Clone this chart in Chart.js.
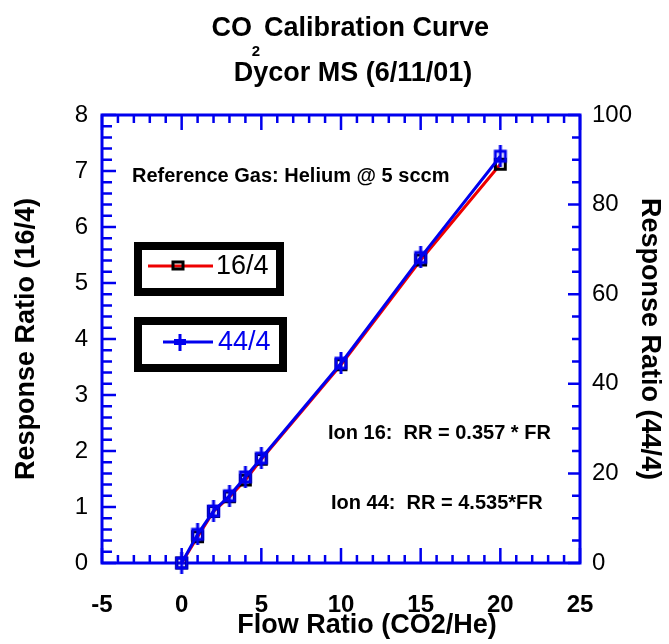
<!DOCTYPE html>
<html lang="en">
<head>
    <meta charset="UTF-8">
    <title>CO2 Calibration Curve</title>
    <script src="https://cdn.jsdelivr.net/npm/chart.js"></script>
    <style>
        html, body {
            margin: 0;
            padding: 0;
            background: #fff;
        }
        #wrap {
            width: 669px;
            height: 644px;
        }
    </style>
</head>
<body>
<div id="wrap"><canvas id="calChart" width="669" height="644"></canvas></div>
<script>
    // values
    const flowRatio = [0, 1, 2, 3, 4, 5, 10, 15, 20];
    const ratio16 = [0, 0.47, 0.92, 1.18, 1.48, 1.85, 3.54, 5.41, 7.12];
    const ratio44 = [0, 6.4, 11.6, 15.0, 19.2, 23.4, 44.6, 68.2, 90.8];

    const FONT = '"Liberation Sans", Arial, Helvetica, sans-serif';
    const BLUE = '#0000ee';
    const RED = '#ee0000';

    // blue marker: open square with a vertical stroke through it
    const blueMark = document.createElement('canvas');
    blueMark.width = 16;
    blueMark.height = 22;
    (function () {
        const c = blueMark.getContext('2d');
        c.strokeStyle = BLUE;
        c.lineWidth = 3;
        c.strokeRect(3, 6, 10, 10);
        c.beginPath();
        c.moveTo(8, 0);
        c.lineTo(8, 22);
        c.stroke();
    })();

    function tickSet(ctx, n, pos, isMajor, draw) {
        for (let i = 0; i <= n; i++) {
            draw(pos(i), isMajor(i));
        }
    }

    const framePlugin = {
        id: 'frame',
        beforeDatasetsDraw(chart) {
            const {ctx, chartArea: a, scales} = chart;
            ctx.save();
            ctx.strokeStyle = BLUE;
            ctx.lineWidth = 2.5;
            ctx.beginPath();
            // x ticks, bottom and top, every 1, major every 5
            for (let v = -5; v <= 25; v++) {
                const px = scales.x.getPixelForValue(v);
                const len = v % 5 === 0 ? 15 : 8;
                ctx.moveTo(px, a.bottom); ctx.lineTo(px, a.bottom - len);
                ctx.moveTo(px, a.top); ctx.lineTo(px, a.top + len);
            }
            // left ticks every 0.2, major every 1
            for (let i = 0; i <= 40; i++) {
                const py = scales.y.getPixelForValue(i / 5);
                const len = i % 5 === 0 ? 14 : 10;
                ctx.moveTo(a.left, py); ctx.lineTo(a.left + len, py);
            }
            // right ticks every 5, major every 20
            for (let i = 0; i <= 20; i++) {
                const py = scales.y1.getPixelForValue(i * 5);
                const len = i % 4 === 0 ? 12 : 8;
                ctx.moveTo(a.right, py); ctx.lineTo(a.right - len, py);
            }
            ctx.stroke();
            ctx.lineWidth = 3;
            ctx.strokeRect(a.left, a.top, a.right - a.left, a.bottom - a.top);
            ctx.restore();
        },
        afterDraw(chart) {
            const {ctx} = chart;
            ctx.save();
            ctx.fillStyle = '#000';
            ctx.textBaseline = 'alphabetic';

            // title
            ctx.font = 'bold 27px ' + FONT;
            ctx.textAlign = 'right';
            ctx.fillText('CO', 252, 36);
            ctx.textAlign = 'left';
            ctx.fillText('Calibration Curve', 264, 36);
            ctx.font = 'bold 15px ' + FONT;
            ctx.textAlign = 'center';
            ctx.fillText('2', 256, 56);
            ctx.font = 'bold 27px ' + FONT;
            ctx.fillText('Dycor MS (6/11/01)', 353, 81);

            // x axis title
            ctx.fillText('Flow Ratio (CO2/He)', 367, 633);

            // notes
            ctx.font = 'bold 20px ' + FONT;
            ctx.textAlign = 'left';
            ctx.fillText('Reference Gas: Helium @ 5 sccm', 132, 182);
            ctx.fillText('Ion 16:  RR = 0.357 * FR', 328, 439);
            ctx.fillText('Ion 44:  RR = 4.535*FR', 331, 509);

            // legend boxes
            ctx.strokeStyle = '#000';
            ctx.lineWidth = 8;
            ctx.strokeRect(138, 246, 142, 46);
            ctx.strokeRect(138, 321, 145, 47);

            ctx.lineWidth = 3;
            ctx.strokeStyle = RED;
            ctx.beginPath();
            ctx.moveTo(148, 266); ctx.lineTo(213, 266);
            ctx.stroke();
            ctx.strokeStyle = '#000';
            ctx.strokeRect(173, 262, 10, 7);

            ctx.strokeStyle = BLUE;
            ctx.beginPath();
            ctx.moveTo(163, 342); ctx.lineTo(213, 342);
            ctx.moveTo(180, 334); ctx.lineTo(180, 351);
            ctx.stroke();
            ctx.lineWidth = 6;
            ctx.beginPath();
            ctx.moveTo(174, 342); ctx.lineTo(186, 342);
            ctx.stroke();

            ctx.font = '27px ' + FONT;
            ctx.textBaseline = 'middle';
            ctx.fillStyle = '#000';
            ctx.fillText('16/4', 216, 267);
            ctx.fillStyle = BLUE;
            ctx.fillText('44/4', 218, 343);
            ctx.restore();
        }
    };

    const ctx = document.getElementById('calChart').getContext('2d');
    new Chart(ctx, {
        type: 'line',
        data: {
            datasets: [
                {
                    label: '16/4',
                    data: flowRatio.map((x, i) => ({x: x, y: ratio16[i]})),
                    yAxisID: 'y',
                    borderColor: RED,
                    borderWidth: 3,
                    pointStyle: 'rect',
                    pointRadius: 7,
                    pointBorderColor: '#000',
                    pointBackgroundColor: 'rgba(0,0,0,0)',
                    pointBorderWidth: 3,
                    tension: 0,
                    clip: false,
                    order: 2
                },
                {
                    label: '44/4',
                    data: flowRatio.map((x, i) => ({x: x, y: ratio44[i]})),
                    yAxisID: 'y1',
                    borderColor: BLUE,
                    borderWidth: 3,
                    pointStyle: blueMark,
                    tension: 0,
                    clip: false,
                    order: 1
                }
            ]
        },
        options: {
            responsive: false,
            animation: false,
            events: [],
            layout: { padding: { top: 115, left: 0, right: 0, bottom: 0 } },
            plugins: {
                legend: { display: false },
                title: { display: false },
                tooltip: { enabled: false }
            },
            scales: {
                x: {
                    type: 'linear',
                    min: -5,
                    max: 25,
                    grid: { display: false, drawTicks: false, tickLength: 0 },
                    border: { display: false },
                    ticks: {
                        stepSize: 5,
                        maxRotation: 0,
                        padding: 28,
                        color: '#000',
                        font: { family: FONT, size: 24, weight: 'bold' }
                    },
                    afterFit(s) { s.height = 81; }
                },
                y: {
                    type: 'linear',
                    position: 'left',
                    min: 0,
                    max: 8,
                    grid: { display: false, drawTicks: false, tickLength: 0 },
                    border: { display: false },
                    ticks: {
                        stepSize: 1,
                        padding: 14,
                        color: '#000',
                        font: { family: FONT, size: 24 }
                    },
                    title: {
                        display: true,
                        text: 'Response Ratio (16/4)',
                        color: '#000',
                        font: { family: FONT, size: 27, weight: 'bold' },
                        padding: { top: 10, bottom: 0 }
                    },
                    afterFit(s) { s.width = 102; }
                },
                y1: {
                    type: 'linear',
                    position: 'right',
                    min: 0,
                    max: 100,
                    grid: { display: false, drawTicks: false, tickLength: 0 },
                    border: { display: false },
                    ticks: {
                        stepSize: 20,
                        padding: 12,
                        color: '#000',
                        font: { family: FONT, size: 24 }
                    },
                    title: {
                        display: true,
                        text: 'Response Ratio (44/4)',
                        color: '#000',
                        font: { family: FONT, size: 27, weight: 'bold' },
                        padding: { top: 3, bottom: 0 }
                    },
                    afterFit(s) { s.width = 89; }
                }
            }
        },
        plugins: [framePlugin]
    });
</script>
</body>
</html>
